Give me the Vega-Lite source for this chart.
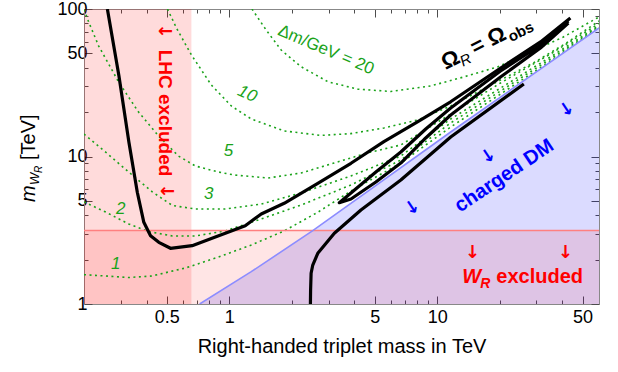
{
  "$schema": "https://vega.github.io/schema/vega-lite/v6.json",
  "width": 515,
  "height": 295,
  "autosize": {"type": "none"},
  "padding": {"left": 84, "top": 9, "right": 19, "bottom": 68},
  "config": {"view": {"stroke": null}, "font": "Liberation Sans"},
  "datasets": {
    "blue": [
      {"m": 0.72, "w": 1}, {"m": 1.275, "w": 1.656}, {"m": 2.52, "w": 3.14}, {"m": 11.61, "w": 14.66}, {"m": 60, "w": 74.3}
    ],
    "black": [
      {"s": "a", "m": 0.2591, "w": 100}, {"s": "a", "m": 0.2944, "w": 35.3}, {"s": "a", "m": 0.3289, "w": 12.49},
      {"s": "a", "m": 0.3609, "w": 5.72}, {"s": "a", "m": 0.388, "w": 3.58}, {"s": "a", "m": 0.4179, "w": 2.905},
      {"s": "a", "m": 0.458, "w": 2.62}, {"s": "a", "m": 0.5212, "w": 2.386}, {"s": "a", "m": 0.6625, "w": 2.485},
      {"s": "a", "m": 0.8886, "w": 2.905}, {"s": "a", "m": 1.193, "w": 3.396}, {"s": "a", "m": 1.424, "w": 4.076},
      {"s": "a", "m": 1.836, "w": 4.817}, {"s": "a", "m": 2.664, "w": 6.58}, {"s": "a", "m": 3.847, "w": 8.995},
      {"s": "a", "m": 5.54, "w": 12.6}, {"s": "a", "m": 8.035, "w": 17.2}, {"s": "a", "m": 11.6, "w": 23.5},
      {"s": "a", "m": 20.2, "w": 39.8}, {"s": "a", "m": 31.4, "w": 59.8}, {"s": "a", "m": 43.7, "w": 86.9},
      {"s": "b", "m": 42.73, "w": 82.9}, {"s": "b", "m": 31.37, "w": 57.0}, {"s": "b", "m": 20.16, "w": 37.98},
      {"s": "b", "m": 11.61, "w": 21.32}, {"s": "b", "m": 8.806, "w": 15.37}, {"s": "b", "m": 6.683, "w": 10.73},
      {"s": "b", "m": 5.07, "w": 7.85}, {"s": "b", "m": 3.847, "w": 5.655}, {"s": "b", "m": 3.381, "w": 4.862},
      {"s": "b", "m": 3.847, "w": 5.15}, {"s": "b", "m": 5.07, "w": 6.72}, {"s": "b", "m": 6.683, "w": 9.03},
      {"s": "b", "m": 8.806, "w": 13.35}, {"s": "b", "m": 11.61, "w": 19.11}, {"s": "b", "m": 20.16, "w": 34.6},
      {"s": "b", "m": 31.37, "w": 54.4}, {"s": "b", "m": 42.73, "w": 80.4},
      {"s": "c", "m": 2.455, "w": 1}, {"s": "c", "m": 2.46, "w": 1.244}, {"s": "c", "m": 2.474, "w": 1.615},
      {"s": "c", "m": 2.52, "w": 1.838}, {"s": "c", "m": 2.664, "w": 2.207}, {"s": "c", "m": 3.2, "w": 3.015},
      {"s": "c", "m": 4.296, "w": 4.338}, {"s": "c", "m": 6.683, "w": 6.93}, {"s": "c", "m": 11.61, "w": 13.56},
      {"s": "c", "m": 26.1, "w": 31.0}
    ],
    "contours": [
      {"dm": 20, "m": 1.285, "w": 100}, {"dm": 20, "m": 1.504, "w": 72.0}, {"dm": 20, "m": 1.776, "w": 52.7},
      {"dm": 20, "m": 2.215, "w": 40.6}, {"dm": 20, "m": 2.985, "w": 32.1}, {"dm": 20, "m": 4.156, "w": 28.6},
      {"dm": 20, "m": 5.984, "w": 27.6}, {"dm": 20, "m": 9.308, "w": 30.1}, {"dm": 20, "m": 13.4, "w": 34.6},
      {"dm": 20, "m": 19.51, "w": 40.5}, {"dm": 20, "m": 28.08, "w": 51.1}, {"dm": 20, "m": 40.44, "w": 64.6},
      {"dm": 20, "m": 60, "w": 88.3},
      {"dm": 10, "m": 0.5043, "w": 100}, {"dm": 10, "m": 0.5568, "w": 74.3}, {"dm": 10, "m": 0.6573, "w": 48.8},
      {"dm": 10, "m": 0.8198, "w": 30.5}, {"dm": 10, "m": 1.0223, "w": 22.0}, {"dm": 10, "m": 1.275, "w": 17.96},
      {"dm": 10, "m": 1.836, "w": 14.9}, {"dm": 10, "m": 2.762, "w": 13.9}, {"dm": 10, "m": 3.847, "w": 14.3},
      {"dm": 10, "m": 5.539, "w": 15.6}, {"dm": 10, "m": 8.063, "w": 17.7}, {"dm": 10, "m": 11.61, "w": 22.0},
      {"dm": 10, "m": 20.16, "w": 33.0}, {"dm": 10, "m": 29.03, "w": 43.1}, {"dm": 10, "m": 41.8, "w": 58.8},
      {"dm": 10, "m": 60, "w": 82.9},
      {"dm": 5, "m": 0.2, "w": 99}, {"dm": 5, "m": 0.2107, "w": 81.6}, {"dm": 5, "m": 0.2353, "w": 56.1},
      {"dm": 5, "m": 0.2935, "w": 32.0}, {"dm": 5, "m": 0.366, "w": 20.0}, {"dm": 5, "m": 0.4566, "w": 13.8},
      {"dm": 5, "m": 0.5692, "w": 10.08}, {"dm": 5, "m": 0.6869, "w": 8.62}, {"dm": 5, "m": 0.8855, "w": 7.85},
      {"dm": 5, "m": 1.0567, "w": 7.49}, {"dm": 5, "m": 1.538, "w": 7.15}, {"dm": 5, "m": 2.215, "w": 7.73},
      {"dm": 5, "m": 3.189, "w": 9.03}, {"dm": 5, "m": 4.642, "w": 10.6}, {"dm": 5, "m": 6.683, "w": 11.97},
      {"dm": 5, "m": 11.61, "w": 19.4}, {"dm": 5, "m": 20.16, "w": 31.5}, {"dm": 5, "m": 35.03, "w": 49.5},
      {"dm": 5, "m": 60, "w": 79.7},
      {"dm": 3, "m": 0.2, "w": 14.2}, {"dm": 3, "m": 0.2542, "w": 10.7}, {"dm": 3, "m": 0.3279, "w": 7.85},
      {"dm": 3, "m": 0.4272, "w": 5.74}, {"dm": 3, "m": 0.5329, "w": 4.65}, {"dm": 3, "m": 0.6869, "w": 4.41},
      {"dm": 3, "m": 0.9568, "w": 4.41}, {"dm": 3, "m": 1.424, "w": 4.76}, {"dm": 3, "m": 2.215, "w": 5.66},
      {"dm": 3, "m": 3.847, "w": 7.38}, {"dm": 3, "m": 6.683, "w": 10.08}, {"dm": 3, "m": 11.61, "w": 17.96},
      {"dm": 3, "m": 20.16, "w": 29.1}, {"dm": 3, "m": 35.03, "w": 47.3}, {"dm": 3, "m": 60, "w": 77.3},
      {"dm": 2, "m": 0.2, "w": 4.92}, {"dm": 2, "m": 0.2542, "w": 4.2}, {"dm": 2, "m": 0.3279, "w": 3.49},
      {"dm": 2, "m": 0.4088, "w": 3.1}, {"dm": 2, "m": 0.5329, "w": 2.89}, {"dm": 2, "m": 0.6869, "w": 2.89},
      {"dm": 2, "m": 0.9568, "w": 3.13}, {"dm": 2, "m": 1.424, "w": 3.77}, {"dm": 2, "m": 2.215, "w": 4.69},
      {"dm": 2, "m": 3.847, "w": 6.41}, {"dm": 2, "m": 6.683, "w": 9.47}, {"dm": 2, "m": 11.61, "w": 16.9},
      {"dm": 2, "m": 20.16, "w": 27.8}, {"dm": 2, "m": 35.03, "w": 45.8}, {"dm": 2, "m": 60, "w": 76.1},
      {"dm": 1, "m": 0.2, "w": 1.58}, {"dm": 1, "m": 0.2542, "w": 1.548}, {"dm": 1, "m": 0.3279, "w": 1.512},
      {"dm": 1, "m": 0.4225, "w": 1.548}, {"dm": 1, "m": 0.6151, "w": 1.754}, {"dm": 1, "m": 0.8855, "w": 2.08},
      {"dm": 1, "m": 1.275, "w": 2.51}, {"dm": 1, "m": 1.836, "w": 3.13}, {"dm": 1, "m": 2.673, "w": 4.2},
      {"dm": 1, "m": 3.847, "w": 5.84}, {"dm": 1, "m": 6.683, "w": 9.03}, {"dm": 1, "m": 11.61, "w": 15.85},
      {"dm": 1, "m": 20.16, "w": 26.5}, {"dm": 1, "m": 35.03, "w": 44.4}, {"dm": 1, "m": 60, "w": 74.9}
    ]
  },
  "layer": [
    {
      "data": {"values": [{"m": 0.2, "m2": 0.657, "w": 1, "w2": 100}]},
      "mark": {"type": "rect", "color": "#ff0000", "opacity": 0.14},
      "encoding": {
        "x": {"field": "m", "type": "quantitative", "scale": {"type": "log", "domain": [0.2, 60], "nice": false},
          "axis": {"orient": "bottom", "grid": false, "values": [0.5, 1, 5, 10, 50],
            "labelExpr": "'' + datum.value", "tickSize": -8,
            "tickColor": "#4d4d4d", "domainColor": "#888888", "tickWidth": 1, "domainWidth": 1,
            "labelFont": "Liberation Sans", "labelFontSize": 18, "labelColor": "#000000", "labelPadding": 12,
            "labelOverlap": false, "labelFlush": false,
            "title": "Right-handed triplet mass in TeV", "titleFont": "Liberation Sans", "titleFontSize": 20,
            "titleFontWeight": "normal", "titleColor": "#000000", "titlePadding": 10}},
        "x2": {"field": "m2"},
        "y": {"field": "w", "type": "quantitative", "scale": {"type": "log", "domain": [1, 100], "nice": false},
          "axis": {"orient": "left", "grid": false, "values": [1, 5, 10, 50, 100],
            "labelExpr": "'' + datum.value", "tickSize": -8,
            "tickColor": "#4d4d4d", "domainColor": "#888888", "tickWidth": 1, "domainWidth": 1,
            "labelFont": "Liberation Sans", "labelFontSize": 18, "labelColor": "#000000", "labelPadding": 5,
            "labelOverlap": false, "labelFlush": false, "title": null}},
        "y2": {"field": "w2"}
      }
    },
    {
      "data": {"name": "blue"},
      "mark": {"type": "area", "color": "#0000ff", "opacity": 0.14, "clip": true},
      "encoding": {
        "x": {"field": "m", "type": "quantitative", "scale": {"type": "log", "domain": [0.2, 60], "nice": false},
          "axis": {"orient": "bottom", "grid": false, "labels": false, "title": null,
            "values": [0.3, 0.4, 0.6, 0.7, 0.8, 0.9, 2, 3, 4, 6, 7, 8, 9, 20, 30, 40],
            "tickSize": -4, "tickColor": "#4d4d4d", "domainColor": "#888888", "tickWidth": 1, "domainWidth": 1}},
        "y": {"field": "w", "type": "quantitative", "scale": {"type": "log", "domain": [1, 100], "nice": false},
          "axis": {"orient": "left", "grid": false, "labels": false, "title": null,
            "values": [2, 3, 4, 6, 7, 8, 9, 20, 30, 40, 60, 70, 80, 90],
            "tickSize": -4, "tickColor": "#4d4d4d", "domainColor": "#888888", "tickWidth": 1, "domainWidth": 1}},
        "y2": {"datum": 1},
        "order": {"value": null}
      }
    },
    {
      "data": {"values": [{"m": 0.2, "m2": 60, "w": 1, "w2": 3.15}]},
      "mark": {"type": "rect", "color": "#ff0000", "opacity": 0.1},
      "encoding": {
        "x": {"field": "m", "type": "quantitative", "scale": {"type": "log", "domain": [0.2, 60], "nice": false},
          "axis": {"orient": "top", "grid": false, "labels": false, "title": null,
            "values": [0.5, 1, 5, 10, 50],
            "tickSize": -8, "tickColor": "#4d4d4d", "domainColor": "#888888", "tickWidth": 1, "domainWidth": 1}},
        "x2": {"field": "m2"},
        "y": {"field": "w", "type": "quantitative", "scale": {"type": "log", "domain": [1, 100], "nice": false},
          "axis": {"orient": "right", "grid": false, "labels": false, "title": null,
            "values": [1, 5, 10, 50, 100],
            "tickSize": -8, "tickColor": "#4d4d4d", "domainColor": "#888888", "tickWidth": 1, "domainWidth": 1}},
        "y2": {"field": "w2"}
      }
    },
    {
      "layer": [
        {
          "data": {"name": "contours"},
          "mark": {"type": "line", "color": "#1aa31a", "strokeWidth": 1.6, "strokeDash": [2, 3.5], "clip": true},
          "encoding": {
            "x": {"field": "m", "type": "quantitative", "scale": {"type": "log", "domain": [0.2, 60], "nice": false},
              "axis": {"orient": "top", "grid": false, "labels": false, "title": null,
                "values": [0.3, 0.4, 0.6, 0.7, 0.8, 0.9, 2, 3, 4, 6, 7, 8, 9, 20, 30, 40],
                "tickSize": -4, "tickColor": "#4d4d4d", "domainColor": "#888888", "tickWidth": 1, "domainWidth": 1}},
            "y": {"field": "w", "type": "quantitative", "scale": {"type": "log", "domain": [1, 100], "nice": false},
              "axis": {"orient": "right", "grid": false, "labels": false, "title": null,
                "values": [2, 3, 4, 6, 7, 8, 9, 20, 30, 40, 60, 70, 80, 90],
                "tickSize": -4, "tickColor": "#4d4d4d", "domainColor": "#888888", "tickWidth": 1, "domainWidth": 1}},
            "detail": {"field": "dm", "type": "nominal"},
            "order": {"value": null}
          }
        },
        {
          "data": {"values": [{"w": 3.15}]},
          "mark": {"type": "rule", "color": "#ff8080", "strokeWidth": 1.6},
          "encoding": {
            "y": {"field": "w", "type": "quantitative", "scale": {"type": "log", "domain": [1, 100], "nice": false}}
          }
        },
        {
          "data": {"name": "blue"},
          "mark": {"type": "line", "color": "#8c8cff", "strokeWidth": 1.6, "clip": true},
          "encoding": {
            "x": {"field": "m", "type": "quantitative", "scale": {"type": "log", "domain": [0.2, 60], "nice": false}},
            "y": {"field": "w", "type": "quantitative", "scale": {"type": "log", "domain": [1, 100], "nice": false}},
            "order": {"value": null}
          }
        },
        {
          "data": {"name": "black"},
          "mark": {"type": "line", "color": "#000000", "strokeWidth": 3.2, "strokeJoin": "round", "clip": true},
          "encoding": {
            "x": {"field": "m", "type": "quantitative", "scale": {"type": "log", "domain": [0.2, 60], "nice": false}},
            "y": {"field": "w", "type": "quantitative", "scale": {"type": "log", "domain": [1, 100], "nice": false}},
            "detail": {"field": "s", "type": "nominal"},
            "order": {"value": null}
          }
        },
        {
          "data": {"values": [{"m": 0.4932, "w": 19.72, "t": "LHC excluded"}]},
          "mark": {"type": "text", "angle": 90, "fontSize": 19, "fontWeight": "bold", "color": "#ff0000", "align": "center", "baseline": "middle"},
          "encoding": {
            "x": {"field": "m", "type": "quantitative", "scale": {"type": "log", "domain": [0.2, 60], "nice": false}},
            "y": {"field": "w", "type": "quantitative", "scale": {"type": "log", "domain": [1, 100], "nice": false}},
            "text": {"field": "t"}
          }
        },
        {
          "data": {"values": [{"m": 0.4932, "w": 69.8, "t": "←"}, {"m": 0.505, "w": 5.74, "t": "←"}]},
          "mark": {"type": "text", "font": "DejaVu Sans", "fontSize": 18, "fontWeight": "bold", "color": "#ff0000", "align": "center", "baseline": "middle"},
          "encoding": {
            "x": {"field": "m", "type": "quantitative", "scale": {"type": "log", "domain": [0.2, 60], "nice": false}},
            "y": {"field": "w", "type": "quantitative", "scale": {"type": "log", "domain": [1, 100], "nice": false}},
            "text": {"field": "t"}
          }
        },
        {
          "data": {"values": [{"m": 13.2, "w": 1.38, "t": "W"}]},
          "mark": {"type": "text", "fontSize": 20, "fontWeight": "bold", "fontStyle": "italic", "color": "#ff0000", "align": "left", "baseline": "alphabetic"},
          "encoding": {
            "x": {"field": "m", "type": "quantitative", "scale": {"type": "log", "domain": [0.2, 60], "nice": false}},
            "y": {"field": "w", "type": "quantitative", "scale": {"type": "log", "domain": [1, 100], "nice": false}},
            "text": {"field": "t"}
          }
        },
        {
          "data": {"values": [{"m": 13.2, "w": 1.38, "t": "R"}]},
          "mark": {"type": "text", "fontSize": 14, "fontWeight": "bold", "fontStyle": "italic", "color": "#ff0000", "align": "left", "baseline": "alphabetic", "dx": 18, "dy": 5},
          "encoding": {
            "x": {"field": "m", "type": "quantitative", "scale": {"type": "log", "domain": [0.2, 60], "nice": false}},
            "y": {"field": "w", "type": "quantitative", "scale": {"type": "log", "domain": [1, 100], "nice": false}},
            "text": {"field": "t"}
          }
        },
        {
          "data": {"values": [{"m": 13.2, "w": 1.38, "t": "excluded"}]},
          "mark": {"type": "text", "fontSize": 20, "fontWeight": "bold", "color": "#ff0000", "align": "left", "baseline": "alphabetic", "dx": 34},
          "encoding": {
            "x": {"field": "m", "type": "quantitative", "scale": {"type": "log", "domain": [0.2, 60], "nice": false}},
            "y": {"field": "w", "type": "quantitative", "scale": {"type": "log", "domain": [1, 100], "nice": false}},
            "text": {"field": "t"}
          }
        },
        {
          "data": {"values": [{"m": 14.75, "w": 2.21, "t": "↓"}, {"m": 41.3, "w": 2.21, "t": "↓"}]},
          "mark": {"type": "text", "font": "DejaVu Sans", "fontSize": 18, "fontWeight": "bold", "color": "#ff0000", "align": "center", "baseline": "middle"},
          "encoding": {
            "x": {"field": "m", "type": "quantitative", "scale": {"type": "log", "domain": [0.2, 60], "nice": false}},
            "y": {"field": "w", "type": "quantitative", "scale": {"type": "log", "domain": [1, 100], "nice": false}},
            "text": {"field": "t"}
          }
        },
        {
          "data": {"values": [{"m": 21.0, "w": 7.4, "t": "charged DM"}]},
          "mark": {"type": "text", "angle": -34, "fontSize": 20, "fontWeight": "bold", "color": "#0000ff", "align": "center", "baseline": "middle"},
          "encoding": {
            "x": {"field": "m", "type": "quantitative", "scale": {"type": "log", "domain": [0.2, 60], "nice": false}},
            "y": {"field": "w", "type": "quantitative", "scale": {"type": "log", "domain": [1, 100], "nice": false}},
            "text": {"field": "t"}
          }
        },
        {
          "data": {"values": [{"m": 7.6, "w": 4.46, "t": "↓"}, {"m": 17.66, "w": 9.97, "t": "↓"}, {"m": 42.1, "w": 20.7, "t": "↓"}]},
          "mark": {"type": "text", "font": "DejaVu Sans", "angle": -34, "fontSize": 18, "fontWeight": "bold", "color": "#0000ff", "align": "center", "baseline": "middle"},
          "encoding": {
            "x": {"field": "m", "type": "quantitative", "scale": {"type": "log", "domain": [0.2, 60], "nice": false}},
            "y": {"field": "w", "type": "quantitative", "scale": {"type": "log", "domain": [1, 100], "nice": false}},
            "text": {"field": "t"}
          }
        },
        {
          "data": {"values": [{"m": 10.98, "w": 38.6, "t": "Ω"}]},
          "mark": {"type": "text", "angle": -27, "fontSize": 22, "fontWeight": "bold", "color": "#000000", "align": "left", "baseline": "alphabetic"},
          "encoding": {
            "x": {"field": "m", "type": "quantitative", "scale": {"type": "log", "domain": [0.2, 60], "nice": false}},
            "y": {"field": "w", "type": "quantitative", "scale": {"type": "log", "domain": [1, 100], "nice": false}},
            "text": {"field": "t"}
          }
        },
        {
          "data": {"values": [{"m": 10.98, "w": 38.6, "t": "R"}]},
          "mark": {"type": "text", "angle": -27, "fontSize": 15, "fontStyle": "italic", "color": "#000000", "align": "left", "baseline": "alphabetic", "dx": 17, "dy": 5},
          "encoding": {
            "x": {"field": "m", "type": "quantitative", "scale": {"type": "log", "domain": [0.2, 60], "nice": false}},
            "y": {"field": "w", "type": "quantitative", "scale": {"type": "log", "domain": [1, 100], "nice": false}},
            "text": {"field": "t"}
          }
        },
        {
          "data": {"values": [{"m": 10.98, "w": 38.6, "t": "= Ω"}]},
          "mark": {"type": "text", "angle": -27, "fontSize": 22, "fontWeight": "bold", "color": "#000000", "align": "left", "baseline": "alphabetic", "dx": 33},
          "encoding": {
            "x": {"field": "m", "type": "quantitative", "scale": {"type": "log", "domain": [0.2, 60], "nice": false}},
            "y": {"field": "w", "type": "quantitative", "scale": {"type": "log", "domain": [1, 100], "nice": false}},
            "text": {"field": "t"}
          }
        },
        {
          "data": {"values": [{"m": 10.98, "w": 38.6, "t": "obs"}]},
          "mark": {"type": "text", "angle": -27, "fontSize": 15, "fontWeight": "bold", "color": "#000000", "align": "left", "baseline": "alphabetic", "dx": 71, "dy": 5},
          "encoding": {
            "x": {"field": "m", "type": "quantitative", "scale": {"type": "log", "domain": [0.2, 60], "nice": false}},
            "y": {"field": "w", "type": "quantitative", "scale": {"type": "log", "domain": [1, 100], "nice": false}},
            "text": {"field": "t"}
          }
        },
        {
          "data": {"values": [{"m": 2.919, "w": 52.7, "t": "Δm/GeV = 20"}]},
          "mark": {"type": "text", "angle": 23, "fontSize": 17, "color": "#1aa31a", "align": "center", "baseline": "middle"},
          "encoding": {
            "x": {"field": "m", "type": "quantitative", "scale": {"type": "log", "domain": [0.2, 60], "nice": false}},
            "y": {"field": "w", "type": "quantitative", "scale": {"type": "log", "domain": [1, 100], "nice": false}},
            "text": {"field": "t"}
          }
        },
        {
          "data": {"values": [{"m": 1.22, "w": 26.5, "t": "10"}]},
          "mark": {"type": "text", "angle": 25, "fontSize": 17, "fontStyle": "italic", "color": "#1aa31a", "align": "center", "baseline": "middle"},
          "encoding": {
            "x": {"field": "m", "type": "quantitative", "scale": {"type": "log", "domain": [0.2, 60], "nice": false}},
            "y": {"field": "w", "type": "quantitative", "scale": {"type": "log", "domain": [1, 100], "nice": false}},
            "text": {"field": "t"}
          }
        },
        {
          "data": {"values": [{"m": 0.992, "w": 10.95, "t": "5"}, {"m": 0.796, "w": 5.57, "t": "3"}, {"m": 0.3, "w": 4.41, "t": "2"}, {"m": 0.284, "w": 1.867, "t": "1"}]},
          "mark": {"type": "text", "fontSize": 17, "fontStyle": "italic", "color": "#1aa31a", "align": "center", "baseline": "middle"},
          "encoding": {
            "x": {"field": "m", "type": "quantitative", "scale": {"type": "log", "domain": [0.2, 60], "nice": false}},
            "y": {"field": "w", "type": "quantitative", "scale": {"type": "log", "domain": [1, 100], "nice": false}},
            "text": {"field": "t"}
          }
        },
        {
          "data": {"values": [{"m": 0.1161, "w": 4.915, "t": "m"}]},
          "mark": {"type": "text", "angle": -90, "fontSize": 20, "fontStyle": "italic", "color": "#000000", "align": "left", "baseline": "alphabetic"},
          "encoding": {
            "x": {"field": "m", "type": "quantitative", "scale": {"type": "log", "domain": [0.2, 60], "nice": false}},
            "y": {"field": "w", "type": "quantitative", "scale": {"type": "log", "domain": [1, 100], "nice": false}},
            "text": {"field": "t"}
          }
        },
        {
          "data": {"values": [{"m": 0.1161, "w": 4.915, "t": "W"}]},
          "mark": {"type": "text", "angle": -90, "fontSize": 13, "fontStyle": "italic", "color": "#000000", "align": "left", "baseline": "alphabetic", "dx": 17, "dy": 4},
          "encoding": {
            "x": {"field": "m", "type": "quantitative", "scale": {"type": "log", "domain": [0.2, 60], "nice": false}},
            "y": {"field": "w", "type": "quantitative", "scale": {"type": "log", "domain": [1, 100], "nice": false}},
            "text": {"field": "t"}
          }
        },
        {
          "data": {"values": [{"m": 0.1161, "w": 4.915, "t": "R"}]},
          "mark": {"type": "text", "angle": -90, "fontSize": 10, "fontStyle": "italic", "color": "#000000", "align": "left", "baseline": "alphabetic", "dx": 29, "dy": 7},
          "encoding": {
            "x": {"field": "m", "type": "quantitative", "scale": {"type": "log", "domain": [0.2, 60], "nice": false}},
            "y": {"field": "w", "type": "quantitative", "scale": {"type": "log", "domain": [1, 100], "nice": false}},
            "text": {"field": "t"}
          }
        },
        {
          "data": {"values": [{"m": 0.1161, "w": 4.915, "t": "[TeV]"}]},
          "mark": {"type": "text", "angle": -90, "fontSize": 20, "color": "#000000", "align": "left", "baseline": "alphabetic", "dx": 42},
          "encoding": {
            "x": {"field": "m", "type": "quantitative", "scale": {"type": "log", "domain": [0.2, 60], "nice": false}},
            "y": {"field": "w", "type": "quantitative", "scale": {"type": "log", "domain": [1, 100], "nice": false}},
            "text": {"field": "t"}
          }
        }
      ]
    }
  ],
  "resolve": {"axis": {"x": "independent", "y": "independent"}}
}
